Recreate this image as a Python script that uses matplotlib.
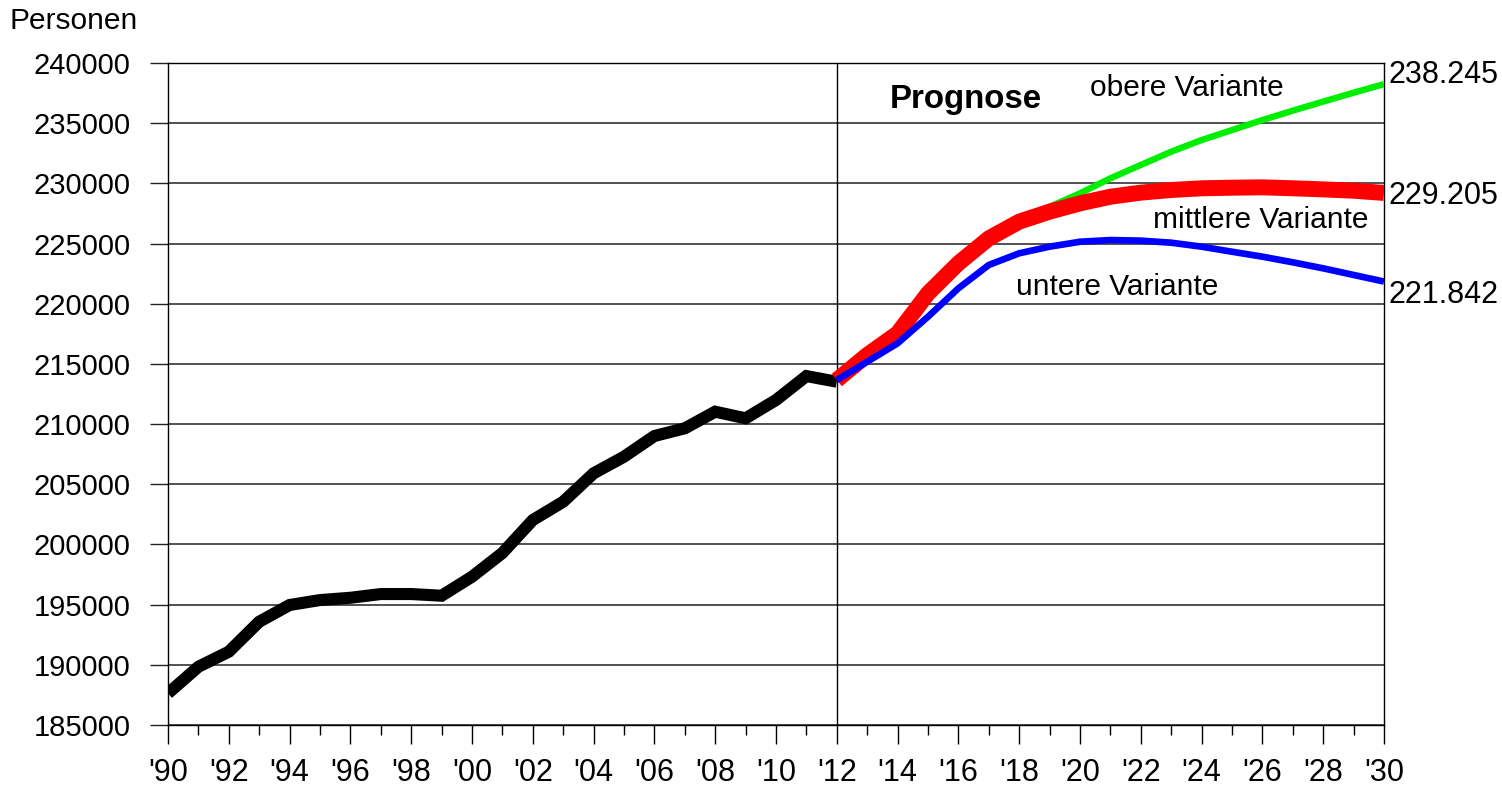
import matplotlib
matplotlib.use('Agg')
import matplotlib.pyplot as plt
from matplotlib.ticker import FixedLocator, MultipleLocator

plt.rcParams['font.family'] = ['Liberation Sans', 'DejaVu Sans']

# observed population 1990-2012
hist_years = list(range(1990, 2013))
hist_values = [187630, 189840, 191090, 193580, 194970, 195380, 195570, 195880,
               195880, 195740, 197320, 199290, 202030, 203550, 205910, 207290,
               209010, 209650, 211030, 210480, 212000, 213990, 213520]

# forecast 2012-2030
fc_years = list(range(2012, 2031))
mid_values = [213660, 215740, 217540, 220860, 223360, 225430, 226820, 227650,
              228340, 228890, 229230, 229450, 229590, 229640, 229670, 229590,
              229500, 229390, 229205]
low_values = [213660, 215180, 216710, 218920, 221280, 223220, 224190, 224740,
              225150, 225290, 225240, 225070, 224740, 224320, 223910, 223440,
              222940, 222390, 221842]
up_years = list(range(2018, 2031))
up_values = [226900, 228060, 229170, 230420, 231530, 232630, 233600, 234430,
             235260, 236040, 236790, 237530, 238245]

tick_years = list(range(1990, 2031, 2))
tick_labels = ["'%02d" % (y % 100) for y in tick_years]
end_labels = ['238.245', '229.205', '221.842']
end_label_y = [239000, 228950, 220720]

fig = plt.figure(figsize=(15.02, 7.90), dpi=100)
ax = fig.add_axes([168 / 1502, 1 - 725 / 790, (1384 - 168) / 1502, (725 - 63) / 790])

line_kw = dict(solid_capstyle='butt', solid_joinstyle='miter')
ax.plot(hist_years, hist_values, color='black', lw=8.7, zorder=3, **line_kw)
ax.plot(up_years, up_values, color='#00ee00', lw=4.6, zorder=4, **line_kw)
ax.plot(fc_years, mid_values, color='#ff0000', lw=11.5, zorder=5, **line_kw)
ax.plot(fc_years, low_values, color='#0000ff', lw=4.8, zorder=6, **line_kw)

ax.axvline(2012, color='black', lw=1, zorder=2)

ax.set_xlim(1990, 2030)
ax.set_ylim(185000, 240000)
ax.yaxis.set_major_locator(MultipleLocator(5000))
ax.xaxis.set_major_locator(FixedLocator(tick_years))
ax.xaxis.set_minor_locator(MultipleLocator(1))
ax.set_xticklabels(tick_labels)
ax.yaxis.grid(True, color='#222222', lw=1.1)
ax.set_axisbelow(True)

ax.tick_params(axis='y', direction='out', length=13, width=1, color='#222222',
               pad=14, labelsize=21)
ax.tick_params(axis='x', which='major', direction='out', length=14, width=1,
               pad=10, labelsize=22)
ax.tick_params(axis='x', which='minor', direction='out', length=7, width=1)
for sp in ax.spines.values():
    sp.set_color('black')
    sp.set_linewidth(1)

ax.text(2013.75, 236926, 'Prognose', fontsize=23.8, fontweight='bold', va='center')
ax.text(2020.33, 237920, 'obere Variante', fontsize=21.5, va='center')
ax.text(2022.4, 226960, 'mittlere Variante', fontsize=21.5, va='center')
ax.text(2017.9, 221390, 'untere Variante', fontsize=21.5, va='center')
for lab, yv in zip(end_labels, end_label_y):
    ax.text(2030.15, yv, lab, fontsize=22, va='center', ha='left')

fig.text(10 / 1502, 1 - 21 / 790, 'Personen', fontsize=21.5, va='center', ha='left')

fig.savefig('out.png', dpi=100)
